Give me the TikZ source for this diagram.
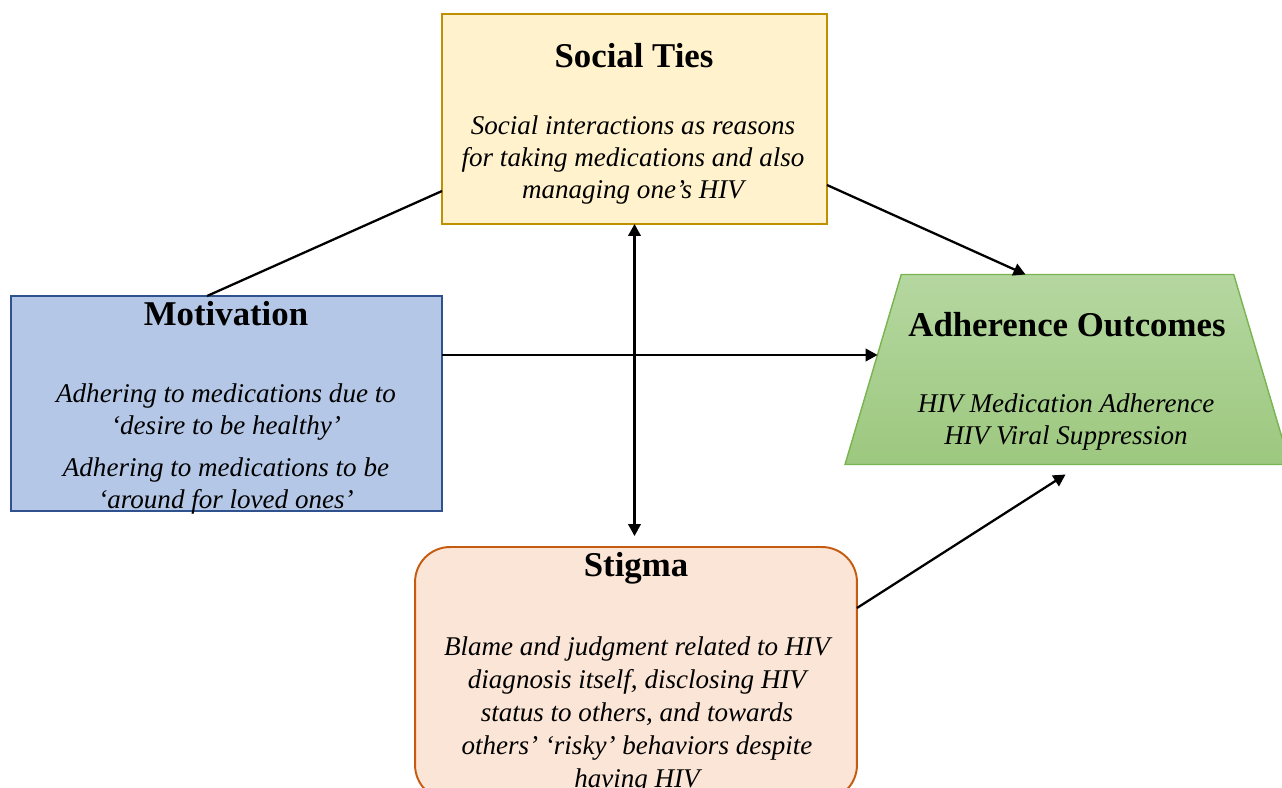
\documentclass[tikz,border=0pt]{standalone}
\usepackage{fontspec}
\setmainfont{Liberation Serif}
\usetikzlibrary{arrows.meta,calc,shapes.geometric}
\definecolor{figY}{RGB}{191,144,0}
\definecolor{figYf}{RGB}{255,242,204}
\definecolor{figB}{RGB}{47,82,143}
\definecolor{figBf}{RGB}{180,199,231}
\definecolor{figO}{RGB}{197,90,17}
\definecolor{figOf}{RGB}{251,229,214}
\definecolor{figG}{RGB}{120,180,80}
\definecolor{figGt}{RGB}{181,215,160}
\definecolor{figGb}{RGB}{157,200,127}

\begin{document}
\begin{tikzpicture}[>={Triangle[length=0.24cm,width=0.25cm]},x=0.02cm,y=-0.02cm,line width=1.3pt,
  hd/.style={font=\fontsize{19.8}{23}\selectfont\bfseries,inner sep=0pt},
  bd/.style={font=\fontsize{15.4}{18.2}\selectfont\itshape,align=center,inner sep=0pt},
  box/.style={draw,line width=1.1pt,inner sep=0pt,outer sep=0pt}]
\useasboundingbox (0,0) rectangle (1282,788); \clip (0,0) rectangle (1282,788);
% boxes
\node[box,draw=figY,fill=figYf,minimum width=7.7cm,minimum height=4.2cm] (social) at (634.5,119) {};
\node[box,draw=figB,fill=figBf,minimum width=8.62cm,minimum height=4.3cm] (motiv) at (226.5,403.5) {};
\node[box,draw=figO,fill=figOf,rounded corners=0.7cm,minimum width=8.84cm,minimum height=5.06cm] (stigma) at (636,673.5) {};
\node[box,inner sep=2pt,draw=figG,line width=0.8pt,top color=figGt,bottom color=figGb,trapezium,trapezium left angle=80.4,trapezium right angle=80.4,trapezium stretches=true,minimum width=8.9cm,minimum height=3.8cm] (outcome) at (1067.5,369.5) {};
% texts
\node[hd] (socialT) at (634,56) {Social Ties};
\node[bd] (socialB) at (633,160) {Social interactions as reasons\\for taking medications and also\\managing one’s HIV};
\node[hd] (motivT) at (226,314) {Motivation};
\node[bd] (motivB) at (226,449) {Adhering to medications due to\\‘desire to be healthy’\\[5.7pt]Adhering to medications to be\\‘around for loved ones’};
\node[hd] (outcomeT) at (1067,325) {Adherence Outcomes};
\node[bd] (outcomeB) at (1066,422) {HIV Medication Adherence\\HIV Viral Suppression};
\node[hd] (stigmaT) at (636,568) {Stigma};
\node[bd,font=\fontsize{15.4}{18.7}\selectfont\itshape] (stigmaB) at (637,715) {Blame and judgment related to HIV\\diagnosis itself, disclosing HIV\\status to others, and towards\\others’ ‘risky’ behaviors despite\\having HIV};
% connectors
\draw ($(motiv.north)+(-19.5,0)$) -- ($(social.west)+(0,72)$);
\draw[->] ($(social.east)+(0,66)$) -- ($(outcome.north)+(-42,0)$);
\coordinate (mright) at ($(motiv.east)+(0,-48.5)$);
\coordinate (oleft) at ($(outcome.bottom left corner)!0.58!(outcome.top left corner)$);
\draw[->] (mright) -- (mright -| oleft);
\draw[<->] (social.south) -- ($(social.south |- stigma.north)+(0,-11)$);
\draw[->] ($(stigma.east)+(0,-65.5)$) -- ($(outcome.south)+(-2,10)$);
\end{tikzpicture}
\end{document}
